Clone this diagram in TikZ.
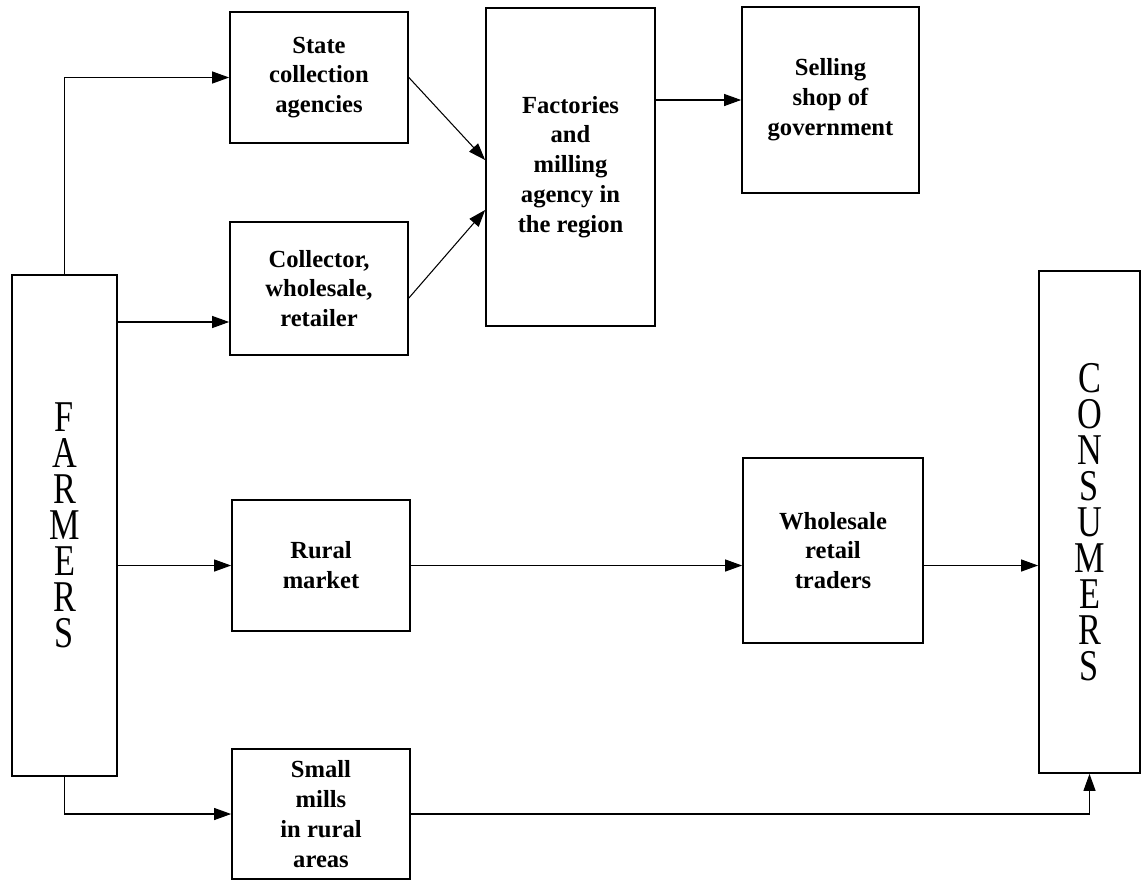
\documentclass[tikz,border=0pt]{standalone}
\usepackage{fontspec}
\setmainfont{Liberation Serif}
\newfontfamily\tallfont[FakeStretch=0.78]{Liberation Serif}
\usetikzlibrary{arrows.meta}

\begin{document}
\begin{tikzpicture}[
  x=0.02cm, y=-0.02cm,
  box/.style={draw, line width=1pt, align=center, inner sep=0pt, font=\fontsize{14}{17}\selectfont\bfseries},
  side/.style={draw, line width=1pt, align=center, inner sep=0pt, font=\tallfont\fontsize{25}{20.5}\selectfont},
  arr/.style={-{Triangle[length=0.34cm,width=0.24cm]}, line width=0.6pt}
]
\useasboundingbox (0,0) rectangle (1141,880);

\node[side, minimum width=2.1cm, minimum height=10.02cm] (farmers) at (64.5,525.5) {F\\A\\R\\M\\E\\R\\S};
\node[box, minimum width=3.56cm, minimum height=2.62cm] (state) at (319,77.5) {State\\collection\\agencies};
\node[box, minimum width=3.56cm, minimum height=2.66cm] (collector) at (319,288.5) {Collector,\\wholesale,\\retailer};
\node[box, minimum width=3.38cm, minimum height=6.36cm] (factories) at (570.5,167) {Factories\\and\\milling\\agency in\\the region};
\node[box, minimum width=3.54cm, minimum height=3.72cm] (selling) at (830.5,100) {Selling\\shop of\\government};
\node[box, minimum width=3.56cm, minimum height=2.62cm] (rural) at (321,565.5) {Rural\\market};
\node[box, minimum width=3.6cm, minimum height=3.7cm] (wholesale) at (833,550.5) {Wholesale\\retail\\traders};
\node[box, minimum width=3.56cm, minimum height=2.6cm] (mills) at (321,814) {Small\\mills\\in rural\\areas};
\node[side, minimum width=2.02cm, minimum height=10.04cm] (consumers) at (1089.5,522) {C\\O\\N\\S\\U\\M\\E\\R\\S};

% entry points that sit off the box centres
\coordinate (collin) at ([yshift=-0.67cm]collector.west);
\coordinate (collout) at ([yshift=-0.19cm]collector.east);
\coordinate (factin1) at ([yshift=0.14cm]factories.west);
\coordinate (factin2) at ([yshift=-0.86cm]factories.west);

\draw[arr] (farmers.north) |- (state.west);
\draw[arr] (farmers.east |- collin) -- (collin);
\draw[arr] (state.east) -- (factin1);
\draw[arr] (collout) -- (factin2);
\draw[arr] (factories.east |- selling.west) -- (selling.west);
\draw[arr] (farmers.east |- rural.west) -- (rural.west);
\draw[arr] (rural.east) -- (wholesale.west |- rural.east);
\draw[arr] (wholesale.east |- rural.east) -- (consumers.west |- rural.east);
\draw[arr] (farmers.south) |- (mills.west);
\draw[arr] (mills.east) -| (consumers.south);
\end{tikzpicture}
\end{document}
